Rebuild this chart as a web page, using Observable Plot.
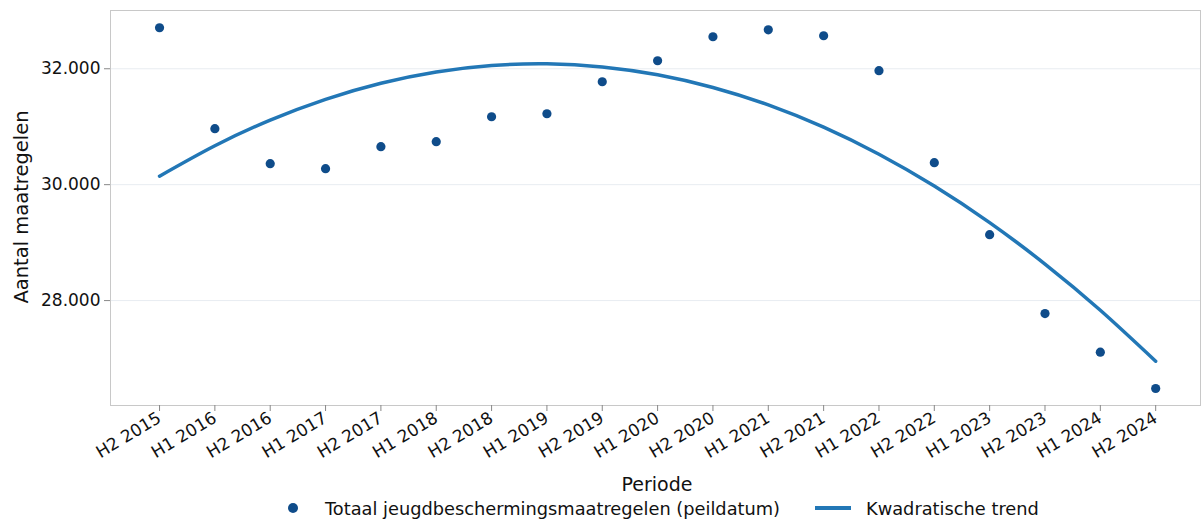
<!DOCTYPE html>
<html>
<head>
<meta charset="utf-8">
<script src="https://cdn.jsdelivr.net/npm/d3@7"></script>
<script src="https://cdn.jsdelivr.net/npm/@observablehq/plot@0.6"></script>
<style>
  html, body { margin: 0; padding: 0; background: #fff; font-family: "DejaVu Sans", sans-serif; }
  #chart { width: 1203px; }
  .legend { position: relative; height: 20px; font-size: 17.8px; color: #111; }
  .legend .item { position: absolute; top: -2px; display: flex; align-items: center; height: 20px; }
</style>
</head>
<body>
<div id="chart"></div>
<script>
const periods = ["H2 2015","H1 2016","H2 2016","H1 2017","H2 2017","H1 2018","H2 2018","H1 2019","H2 2019","H1 2020",
  "H2 2020","H1 2021","H2 2021","H1 2022","H2 2022","H1 2023","H2 2023","H1 2024","H2 2024"];
const totals = [32707, 30966, 30362, 30276, 30655, 30741, 31172, 31224, 31776, 32138,
  32552, 32672, 32569, 31966, 30379, 29138, 27776, 27110, 26483];
const trend = [30147, 30672, 31114, 31473, 31750, 31944, 32056, 32085, 32032, 31896,
  31677, 31376, 30992, 30525, 29976, 29345, 28630, 27833, 26954];
const yTicks = [28000, 30000, 32000];

const pointColor = "#0f4c8a";
const lineColor = "#2277b6";

const data = periods.map((p, i) => ({i, period: p, total: totals[i], trend: trend[i]}));
const fmt = d => d3.format(",.0f")(d).replace(/,/g, ".");

const plot = Plot.plot({
  width: 1203,
  height: 500,
  marginLeft: 110,
  marginRight: 3,
  marginTop: 10,
  marginBottom: 95,
  style: {fontFamily: "DejaVu Sans, sans-serif", fontSize: "17px", color: "#111"},
  x: {type: "linear", domain: [-0.886, 18.81]},
  y: {domain: [26190, 33005]},
  marks: [
    Plot.gridY(yTicks, {stroke: "#e8ecf1", strokeOpacity: 1, strokeWidth: 1}),
    Plot.frame({stroke: "#c8c8c8", strokeWidth: 1}),
    Plot.axisY({ticks: yTicks, tickFormat: fmt, tickSize: 6, tickPadding: 4, stroke: "#888",
      label: null}),
    Plot.axisX({ticks: d3.range(periods.length), tickFormat: i => periods[i], tickSize: 6, tickPadding: 5,
      tickRotate: -31, stroke: "#888", label: null}),
    Plot.line(data, {x: "i", y: "trend", stroke: lineColor, strokeWidth: 3.5, curve: "natural"}),
    Plot.dot(data, {x: "i", y: "total", r: 4.6, fill: pointColor, stroke: "none"})
  ]
});
const svg = d3.select(plot);
svg.selectAll("text").attr("font-size", null).style("font-size", "17px");
svg.append("text").text("Periode")
  .attr("x", 657).attr("y", 491)
  .attr("text-anchor", "middle").style("font-size", "19px").attr("fill", "#111");
svg.append("text").text("Aantal maatregelen")
  .attr("transform", "translate(28,207) rotate(-90)")
  .attr("text-anchor", "middle").style("font-size", "19.5px").attr("fill", "#111");
document.getElementById("chart").appendChild(plot);

const legend = document.createElement("div");
legend.className = "legend";
legend.innerHTML = `
  <div class="item" style="left:287px">
    <svg width="12" height="12"><circle cx="6" cy="6" r="5" fill="${pointColor}"></circle></svg>
    <span style="margin-left:26px">Totaal jeugdbeschermingsmaatregelen (peildatum)</span>
  </div>
  <div class="item" style="left:815px">
    <svg width="36" height="8"><line x1="0" y1="4" x2="36" y2="4" stroke="${lineColor}" stroke-width="4"></line></svg>
    <span style="margin-left:15px">Kwadratische trend</span>
  </div>`;
document.getElementById("chart").appendChild(legend);
</script>
</body>
</html>
